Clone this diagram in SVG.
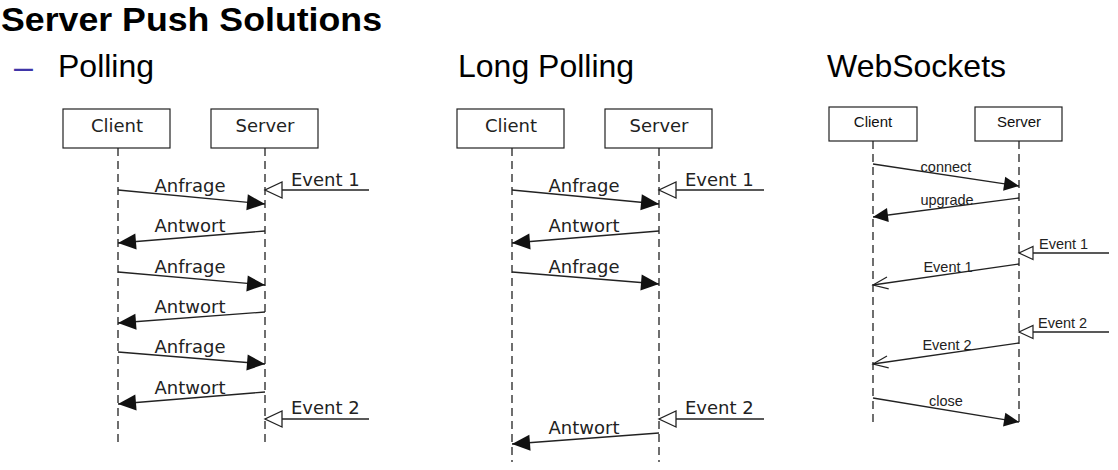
<svg xmlns="http://www.w3.org/2000/svg" width="1118" height="470" viewBox="0 0 1118 470">
<style>
.title{font-family:"Liberation Sans",Arial,sans-serif;font-weight:bold;font-size:34px;fill:#000}
.head{font-family:"Liberation Sans",Arial,sans-serif;font-size:32px;fill:#000}
.box{fill:#fff;stroke:#222;stroke-width:1.2}
.bl{font-family:"DejaVu Sans",sans-serif;font-size:18px;fill:#222;text-anchor:middle}
.ml{font-family:"DejaVu Sans",sans-serif;font-size:18px;fill:#222;text-anchor:middle}
.el{font-family:"DejaVu Sans",sans-serif;font-size:18px;fill:#222}
.wbl{font-family:"Liberation Sans",Arial,sans-serif;font-size:15px;fill:#111;text-anchor:middle}
.wml{font-family:"Liberation Sans",Arial,sans-serif;font-size:14.5px;fill:#222;text-anchor:middle}
.wel{font-family:"Liberation Sans",Arial,sans-serif;font-size:14.5px;fill:#222}
.life{stroke:#222;stroke-width:1.3;stroke-dasharray:8,5;fill:none}
.msg{stroke:#222;stroke-width:1.3;fill:none}
.f{marker-end:url(#filled)}
.h{marker-end:url(#hollow)}
.wf{marker-end:url(#wfilled)}
.wh{marker-end:url(#whollow)}
.wo{marker-end:url(#wopen)}
</style>
<defs>
<marker id="filled" markerUnits="userSpaceOnUse" markerWidth="20" markerHeight="18" refX="18" refY="8" orient="auto" overflow="visible"><path d="M0,0 L18,8 L0,16 z" fill="#111"/></marker>
<marker id="hollow" markerUnits="userSpaceOnUse" markerWidth="20" markerHeight="18" refX="17" refY="8" orient="auto" overflow="visible"><path d="M0,0 L17,8 L0,16 z" fill="#fff" stroke="#222" stroke-width="1.3"/></marker>
<marker id="wfilled" markerUnits="userSpaceOnUse" markerWidth="16" markerHeight="16" refX="15" refY="7" orient="auto" overflow="visible"><path d="M0,0 L15,7 L0,14 z" fill="#111"/></marker>
<marker id="whollow" markerUnits="userSpaceOnUse" markerWidth="16" markerHeight="16" refX="14" refY="6.5" orient="auto" overflow="visible"><path d="M0,0 L14,6.5 L0,13 z" fill="#fff" stroke="#222" stroke-width="1.2"/></marker>
<marker id="wopen" markerUnits="userSpaceOnUse" markerWidth="16" markerHeight="16" refX="15" refY="6" orient="auto" overflow="visible"><path d="M0,0 L15,6 L0,12" fill="none" stroke="#222" stroke-width="1.2"/></marker>
</defs>
<rect width="1118" height="470" fill="#fff"/>
<g id="headings">
<text class="title" x="1" y="31" textLength="381" lengthAdjust="spacingAndGlyphs">Server Push Solutions</text>
<text x="14" y="78" font-family="Liberation Sans,Arial,sans-serif" font-size="34" fill="#3f35a8">–</text>
<text class="head" x="58" y="77">Polling</text>
<text class="head" x="458" y="77">Long Polling</text>
<text class="head" x="827" y="77">WebSockets</text>
</g>
<g id="polling-client"><rect class="box" x="63" y="109" width="107" height="39"/><text class="bl" x="117" y="132">Client</text></g>
<g id="polling-server"><rect class="box" x="211" y="109" width="107" height="39"/><text class="bl" x="265" y="132">Server</text></g>
<g id="long-client"><rect class="box" x="457" y="109" width="107" height="39"/><text class="bl" x="511" y="132">Client</text></g>
<g id="long-server"><rect class="box" x="605" y="109" width="107" height="39"/><text class="bl" x="659" y="132">Server</text></g>
<g id="ws-client"><rect class="box" x="829" y="107" width="88" height="34"/><text class="wbl" x="873" y="127">Client</text></g>
<g id="ws-server"><rect class="box" x="975" y="107" width="87" height="34"/><text class="wbl" x="1019" y="127">Server</text></g>
<g id="connectors">
<line class="life" x1="118" y1="148" x2="118" y2="445"/>
<line class="life" x1="265" y1="148" x2="265" y2="445"/>
<line class="life" x1="512" y1="148" x2="512" y2="462"/>
<line class="life" x1="659" y1="148" x2="659" y2="462"/>
<line class="life" x1="873" y1="141" x2="873" y2="427"/>
<line class="life" x1="1019" y1="141" x2="1019" y2="427"/>
<line class="msg h" x1="369" y1="190" x2="265" y2="190"/>
<line class="msg f" x1="118" y1="190" x2="265" y2="204"/>
<line class="msg f" x1="265" y1="231" x2="118" y2="243"/>
<line class="msg f" x1="118" y1="272" x2="265" y2="285"/>
<line class="msg f" x1="265" y1="312" x2="118" y2="323"/>
<line class="msg f" x1="118" y1="352" x2="265" y2="364"/>
<line class="msg f" x1="265" y1="392" x2="118" y2="404"/>
<line class="msg h" x1="369" y1="419" x2="265" y2="419"/>
<line class="msg h" x1="764" y1="190" x2="659" y2="190"/>
<line class="msg f" x1="512" y1="190" x2="659" y2="204"/>
<line class="msg f" x1="659" y1="231" x2="512" y2="243"/>
<line class="msg f" x1="512" y1="272" x2="659" y2="284"/>
<line class="msg h" x1="764" y1="419" x2="659" y2="419"/>
<line class="msg f" x1="659" y1="433" x2="512" y2="444"/>
<line class="msg wf" x1="873" y1="164" x2="1019" y2="186"/>
<line class="msg wf" x1="1019" y1="198" x2="873" y2="217"/>
<line class="msg wh" x1="1109" y1="253" x2="1019" y2="253"/>
<line class="msg wo" x1="1019" y1="264" x2="873" y2="285"/>
<line class="msg wh" x1="1109" y1="332" x2="1019" y2="332"/>
<line class="msg wo" x1="1019" y1="343" x2="873" y2="364"/>
<line class="msg wf" x1="873" y1="398" x2="1019" y2="422"/>
</g>
<g id="labels">
<text class="el" x="291" y="186">Event 1</text>
<text class="ml" x="190" y="192">Anfrage</text>
<text class="ml" x="190" y="232">Antwort</text>
<text class="ml" x="190" y="273">Anfrage</text>
<text class="ml" x="190" y="313">Antwort</text>
<text class="ml" x="190" y="353">Anfrage</text>
<text class="ml" x="190" y="394">Antwort</text>
<text class="el" x="291" y="414">Event 2</text>
<text class="el" x="685" y="186">Event 1</text>
<text class="ml" x="584" y="192">Anfrage</text>
<text class="ml" x="584" y="232">Antwort</text>
<text class="ml" x="584" y="273">Anfrage</text>
<text class="el" x="685" y="414">Event 2</text>
<text class="ml" x="584" y="434">Antwort</text>
<text class="wml" x="946" y="172">connect</text>
<text class="wml" x="947" y="205">upgrade</text>
<text class="wel" x="1039" y="249">Event 1</text>
<text class="wml" x="948" y="272">Event 1</text>
<text class="wel" x="1038" y="328">Event 2</text>
<text class="wml" x="947" y="350">Event 2</text>
<text class="wml" x="946" y="406">close</text>
</g>
</svg>
